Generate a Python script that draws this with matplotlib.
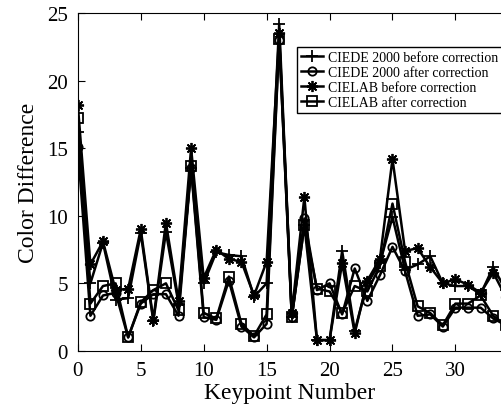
"""
Color difference per keypoint, before and after correction
"""

import numpy as np
import matplotlib
matplotlib.use('Agg')  # no display
import matplotlib.pyplot as plt

keypoints = np.arange(35)

ciede_before = [16.2, 5.0, 8.0, 3.8, 3.9, 8.7, 2.2, 8.8, 3.5, 13.5,
                5.0, 7.3, 7.1, 7.0, 4.0, 5.0, 24.2, 2.5, 9.3, 0.8,
                0.8, 7.4, 1.5, 5.0, 6.5, 9.9, 6.0, 6.4, 7.0, 5.0,
                4.8, 4.8, 4.2, 6.2, 4.5]
ciede_after = [15.1, 2.6, 4.1, 4.3, 1.0, 3.5, 4.2, 4.2, 2.6, 13.5,
               2.5, 2.3, 5.2, 1.8, 1.0, 2.0, 23.0, 2.5, 9.8, 4.5,
               5.0, 2.7, 6.1, 3.7, 5.6, 7.7, 5.9, 2.6, 2.7, 1.8,
               3.2, 3.2, 3.2, 2.4, 1.9]
cielab_before = [18.2, 6.4, 8.1, 4.5, 4.6, 9.0, 2.3, 9.5, 3.7, 15.0,
                 5.4, 7.5, 6.8, 6.6, 4.1, 6.6, 23.5, 2.8, 11.4, 0.8,
                 0.8, 6.5, 1.3, 5.2, 6.8, 14.2, 7.4, 7.6, 6.2, 5.0,
                 5.3, 4.9, 4.3, 5.8, 4.0]
cielab_after = [17.2, 3.5, 4.8, 5.0, 1.0, 3.6, 4.5, 5.0, 3.0, 13.7,
                2.8, 2.4, 5.5, 2.0, 1.1, 2.7, 23.1, 2.5, 9.3, 4.6,
                4.4, 2.8, 4.8, 4.4, 6.3, 10.9, 6.6, 3.3, 2.8, 1.9,
                3.5, 3.5, 4.1, 2.6, 1.9]

labels = ["CIEDE 2000 before correction", "CIEDE 2000 after correction",
          "CIELAB before correction", "CIELAB after correction"]

plt.rcParams['font.family'] = ['Liberation Serif', 'DejaVu Serif']

fig = plt.figure(figsize=(5.02, 4.14), dpi=100)
ax = fig.add_axes([0.155, 0.15, 0.845, 0.816])

style = dict(color='black', linewidth=1.8, markersize=8,
             markerfacecolor='none', markeredgecolor='black', markeredgewidth=1.3)
ax.plot(keypoints, ciede_before, marker='+', label=labels[0], **style)
ax.plot(keypoints, ciede_after, marker='o', label=labels[1], **{**style, 'markersize': 6})
ax.plot(keypoints, cielab_before, marker=(8, 2, 0), label=labels[2], **style)
ax.plot(keypoints, cielab_after, marker='s', label=labels[3], **{**style, 'markersize': 7})

ax.set_xlim(0, 33.7)
ax.set_ylim(0, 25)
ax.set_xticks([0, 5, 10, 15, 20, 25, 30])
ax.set_yticks([0, 5, 10, 15, 20, 25])
ax.tick_params(direction='in', top=True, right=False, labelsize=15, length=5, pad=7)
ax.spines['right'].set_visible(False)
ax.set_xlabel("Keypoint Number", fontsize=17, labelpad=2)
ax.set_ylabel("Color Difference", fontsize=17, labelpad=6)

leg = ax.legend(loc='upper right', bbox_to_anchor=(1.0, 0.9), borderaxespad=0,
                fontsize=10, handlelength=1.6, handletextpad=0.3,
                labelspacing=0.15, borderpad=0.3, fancybox=False,
                edgecolor='black', framealpha=1)
leg.get_frame().set_linewidth(1.0)

fig.savefig("out.png", dpi=100)
plt.close(fig)
